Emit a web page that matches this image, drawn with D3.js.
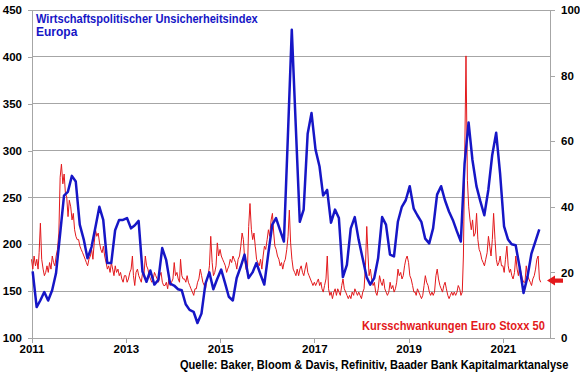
<!DOCTYPE html>
<html>
<head>
<meta charset="utf-8">
<script src="https://cdn.jsdelivr.net/npm/d3@7"></script>
<style>
  body { margin: 0; background: #fff; }
  svg { display: block; font-family: "Liberation Sans", Arial, sans-serif; }
</style>
</head>
<body>
<div id="chart"></div>
<script>
// Wirtschaftspolitischer Unsicherheitsindex Europa, monthly from Jan 2011
const epuValues = [
  171,133,140,149,140,151,169,210,252,256,273,267,
  221,205,185,197,218,240,226,180,180,215,226,226,
  228,217,220,225,171,160,172,157,162,196,183,158,
  156,152,151,136,130,128,116,126,158,170,152,163,
  173,158,144,140,164,176,189,164,170,180,168,157,
  190,221,228,215,203,316,429,326,224,237,318,340,
  301,283,252,258,223,237,228,165,178,217,229,205,
  185,165,157,164,185,229,221,189,187,224,240,247,
  262,238,231,224,206,201,217,253,262,247,235,226,
  214,203,286,330,290,262,246,231,258,295,319,276,
  219,205,200,199,176,148,165,190,203,216
];

// Kursschwankungen Euro Stoxx 50, three readings per month (1st, 11th, 21st) from Jan 2011
const volValues = [
  24,21,25, 22,24,21, 26,35,24, 21,19,20, 22,20,23, 21,25,23, 22,25,27, 32,49,53, 47,50,44, 43,37,42, 40,36,38, 33,31,30,
  30,28,27, 26,25,24, 23,22,24, 25,27,24, 29,33,31, 32,29,27, 26,28,25, 23,21,22, 20,23,21, 19,22,20, 21,19,20, 18,17,19,
  19,17,18, 20,21,25, 19,16,20, 21,19,18, 17,20,19, 25,22,21, 19,18,17, 18,20,19, 18,17,19, 20,17,16, 16,17,15, 18,16,17,
  18,23,19, 20,18,17, 24,19,18, 18,17,19, 17,16,15, 14,13,15, 15,17,18, 21,19,17, 16,15,18, 19,22,31, 23,19,20, 22,29,25,
  27,25,24, 23,22,20, 21,22,24, 23,25,24, 23,21,24, 25,28,32, 30,24,21, 20,34,41, 33,30,32, 28,24,23, 22,24,21, 25,28,27,
  30,33,31, 36,38,32, 28,27,25, 24,22,23, 21,23,24, 27,31,39, 29,24,21, 20,19,21, 19,21,22, 20,19,21, 23,20,19, 18,17,16,
  17,16,17, 18,16,17, 15,14,16, 18,25,15, 13,14,12, 14,15,13, 15,14,13, 16,18,15, 14,13,12, 13,12,14, 13,15,14, 13,14,13,
  12,14,15, 22,34,25, 19,21,18, 16,17,14, 13,15,19, 17,16,18, 15,14,13, 14,17,15, 16,14,15, 17,21,19, 20,18,19, 22,24,25,
  23,19,18, 16,14,14, 13,15,14, 13,12,13, 16,19,17, 16,14,13, 14,13,14, 19,21,18, 16,15,14, 16,17,15, 13,12,13, 14,13,14,
  13,14,16, 15,13,14, 25,55,86, 48,40,36, 33,36,31, 32,38,30, 27,26,24, 23,22,24, 26,31,28, 25,30,38, 30,24,22, 23,25,22,
  22,20,24, 28,22,20, 21,19,18, 20,25,21, 19,22,20, 18,17,17, 22,19,18, 17,16,18, 19,21,24, 25,18,17
];
const volDays = [1, 11, 21];

const leftTicks = [100, 150, 200, 250, 300, 350, 400, 450];
const rightTicks = [0, 20, 40, 60, 80, 100];
const yearTicks = [2011, 2013, 2015, 2017, 2019, 2021];
const arrowValue = 17.5;

const titleLines = ['Wirtschaftspolitischer Unsicherheitsindex', 'Europa'];
const volLabel = 'Kursschwankungen Euro Stoxx 50';
const sourceText = 'Quelle: Baker, Bloom & Davis, Refinitiv, Baader Bank Kapitalmarktanalyse';

const blue = '#1616c6';
const red = '#e3191c';
const grid = '#a6a6a6';

const width = 580, height = 375;
const margin = { left: 31.5, right: 550, top: 10, bottom: 338 };

const svg = d3.select('#chart').append('svg')
    .attr('width', width)
    .attr('height', height);

const x = d3.scaleTime()
    .domain([new Date(2011, 0, 1), new Date(2022, 0, 1)])
    .range([margin.left, margin.right]);
const yL = d3.scaleLinear().domain([100, 450]).range([margin.bottom, margin.top]);
const yR = d3.scaleLinear().domain([0, 100]).range([margin.bottom, margin.top]);

const epu = epuValues.map((v, i) => ({ date: new Date(2011, i, 10), v: v }));
const vol = volValues.map((v, i) => ({
    date: new Date(2011, Math.floor(i / 3), volDays[i % 3]), v: v
}));

// gridlines
svg.append('g')
    .selectAll('line')
    .data(leftTicks.slice(1))
    .join('line')
        .attr('x1', margin.left).attr('x2', margin.right)
        .attr('y1', d => yL(d)).attr('y2', d => yL(d))
        .attr('stroke', grid)
        .attr('stroke-width', 1)
        .attr('shape-rendering', 'crispEdges');

function styleAxis(g, size) {
    g.attr('font-family', null);
    g.selectAll('.domain').attr('stroke', grid).attr('shape-rendering', 'crispEdges');
    g.selectAll('.tick line').attr('stroke', grid).attr('shape-rendering', 'crispEdges');
    g.selectAll('.tick text')
        .attr('fill', '#000')
        .attr('font-size', size)
        .attr('font-weight', 'bold');
}

svg.append('g')
    .attr('transform', 'translate(' + margin.left + ',0)')
    .call(d3.axisLeft(yL).tickValues(leftTicks).tickSize(4).tickSizeOuter(0).tickPadding(5.5))
    .call(g => styleAxis(g, 11.5));

svg.append('g')
    .attr('transform', 'translate(' + margin.right + ',0)')
    .call(d3.axisRight(yR).tickValues(rightTicks).tickSize(5).tickSizeOuter(0).tickPadding(6))
    .call(g => styleAxis(g, 11.5));

svg.append('g')
    .attr('transform', 'translate(0,' + margin.bottom + ')')
    .call(d3.axisBottom(x)
        .tickValues(yearTicks.map(y => new Date(y, 0, 1)))
        .tickFormat(d3.timeFormat('%Y'))
        .tickSize(5).tickSizeOuter(0).tickPadding(2))
    .call(g => styleAxis(g, 11.5));

// red volatility line (right axis)
const volLine = d3.line()
    .x(d => x(d.date))
    .y(d => yR(d.v));
svg.append('path')
    .datum(vol)
    .attr('fill', 'none')
    .attr('stroke', red)
    .attr('stroke-width', 1)
    .attr('stroke-linejoin', 'round')
    .attr('d', volLine);

// blue EPU line (left axis)
const epuLine = d3.line()
    .x(d => x(d.date))
    .y(d => yL(d.v));
svg.append('path')
    .datum(epu)
    .attr('fill', 'none')
    .attr('stroke', blue)
    .attr('stroke-width', 2.5)
    .attr('stroke-linejoin', 'round')
    .attr('d', epuLine);

// texts squeezed horizontally to the reference widths
function fitText(str, xPos, yPos, w, anchor, color, size) {
    const t = svg.append('text')
        .attr('fill', color)
        .attr('font-size', size)
        .attr('font-weight', 'bold')
        .text(str);
    const natural = t.node().getComputedTextLength();
    const k = Math.min(1, w / natural);
    const x0 = anchor === 'end' ? xPos - w : xPos;
    t.attr('transform', 'translate(' + x0 + ',' + yPos + ') scale(' + k + ',1)');
    return t;
}

fitText(titleLines[0], 36, 22.5, 222, 'start', blue, 12);
svg.append('text')
    .attr('x', 36).attr('y', 35.5)
    .attr('fill', blue)
    .attr('font-size', 12).attr('font-weight', 'bold')
    .text(titleLines[1]);

fitText(volLabel, 545, 329.5, 183, 'end', red, 12);
fitText(sourceText, 180, 368.5, 389, 'start', '#000', 12);

// arrow marking the latest volatility level
const ay = yR(arrowValue);
svg.append('path')
    .attr('transform', 'translate(547,' + ay + ')')
    .attr('fill', red)
    .attr('d', 'M0,0 L8,-5 L8,-2.2 L16,-2.2 L16,2.2 L8,2.2 L8,5 Z');
</script>
</body>
</html>
